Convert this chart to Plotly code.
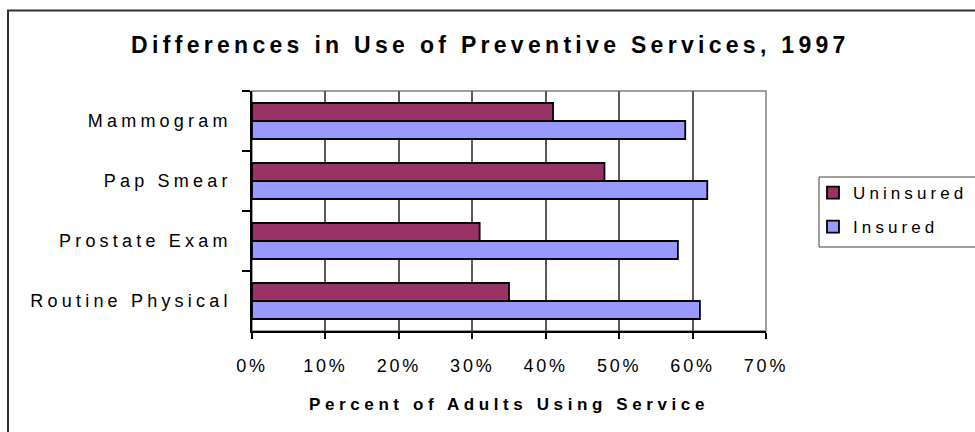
import plotly.graph_objects as go

categories = ["Mammogram", "Pap Smear", "Prostate Exam", "Routine Physical"]
uninsured = [41, 48, 31, 35]
insured = [59, 62, 58, 61]
x_ticks = [0, 10, 20, 30, 40, 50, 60, 70]

W, H = 975, 432
L, R, T, B = 252, 766, 91, 331  # plot area in px
pw, ph = R - L, B - T

def px(x):
    return (x - L) / pw

def py(y):
    return (B - y) / ph

FONT = "Liberation Sans, Arial, sans-serif"

fig = go.Figure()
fig.add_trace(go.Bar(
    y=categories, x=uninsured, name="Uninsured", orientation="h",
    marker=dict(color="#993366", line=dict(color="#000000", width=1.8)),
    legendgroup="u",
))
fig.add_trace(go.Bar(
    y=categories, x=insured, name="Insured", orientation="h",
    marker=dict(color="#9999FF", line=dict(color="#000000", width=1.8)),
    legendgroup="i",
))

fig.update_layout(
    width=W, height=H,
    margin=dict(l=L, r=W - R, t=T, b=H - B, autoexpand=False),
    paper_bgcolor="white", plot_bgcolor="white",
    barmode="group", bargap=0.4, bargroupgap=0,
    font=dict(family=FONT, size=17, color="#000000"),
    title=dict(
        text="<b>Differences in Use of Preventive Services, 1997</b>",
        x=0.503, xanchor="center", xref="container",
        y=1 - 45 / H, yanchor="middle", yref="container",
        font=dict(family=FONT, size=23, color="#000000"),
    ),
    showlegend=True,
    legend=dict(
        x=px(813), xanchor="left", y=py(175), yanchor="top",
        bgcolor="rgba(0,0,0,0)", borderwidth=0,
        traceorder="grouped", tracegroupgap=9,
        font=dict(family=FONT, size=17, color="#000000"),
    ),
    xaxis=dict(
        range=[0, 70], tickvals=x_ticks, ticktext=[f"{v}%" for v in x_ticks],
        showgrid=True, gridcolor="#5a5a5a", gridwidth=1.5,
        showline=True, linecolor="#000000", linewidth=1.5,
        ticks="outside", ticklen=6, tickcolor="#000000", tickwidth=1.5,
        ticklabelstandoff=12, zeroline=False, fixedrange=True,
        tickfont=dict(family=FONT, size=18, color="#000000"),
        title=dict(text="<b>Percent of Adults Using Service</b>", standoff=23,
                   font=dict(family=FONT, size=17, color="#000000")),
        automargin=False,
    ),
    yaxis=dict(
        categoryorder="array", categoryarray=categories, autorange="reversed",
        showline=True, linecolor="#000000", linewidth=1.5,
        ticks="outside", ticklen=8, tickcolor="#000000", tickwidth=1.5,
        tickson="boundaries", showgrid=False, ticklabelstandoff=15,
        tickfont=dict(family=FONT, size=18, color="#000000"),
        fixedrange=True, automargin=False,
    ),
    shapes=[
        # plot area border (top/right gray)
        dict(type="rect", xref="paper", yref="paper", x0=0, x1=1, y0=0, y1=1,
             line=dict(color="#808080", width=1.5), layer="below"),
        # outer chart frame
        dict(type="rect", xref="paper", yref="paper",
             x0=px(8), x1=px(990), y0=py(445), y1=py(10.5),
             line=dict(color="#303030", width=2)),
        # legend frame
        dict(type="rect", xref="paper", yref="paper",
             x0=px(819), x1=px(990), y0=py(247), y1=py(177),
             line=dict(color="#404040", width=1)),
    ],
)

post = """
var s=document.createElement('style');
s.textContent='.gtitle{letter-spacing:4.3px} .xtick text{letter-spacing:2.8px} .ytick text{letter-spacing:4.2px} .xtitle{letter-spacing:4.6px} .legendtext{letter-spacing:4.1px} .legend *{clip-path:none !important}';
document.head.appendChild(s);
"""

fig.write_html("out.html", post_script=post, config={"displayModeBar": False})
